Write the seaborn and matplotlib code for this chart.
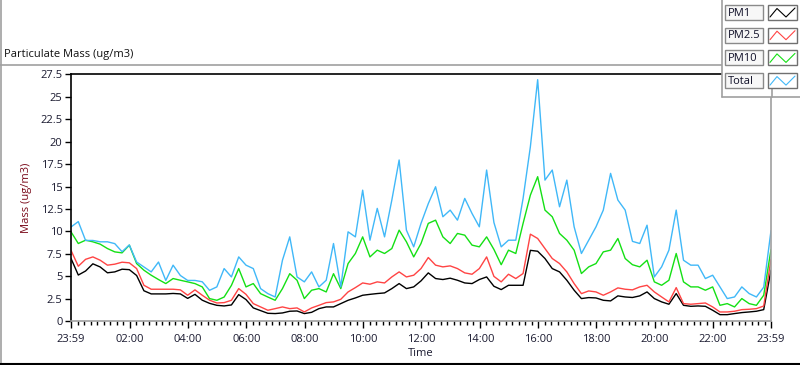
import numpy as np
import pandas as pd
import matplotlib
matplotlib.use("Agg")
import matplotlib.pyplot as plt
import seaborn as sns
from matplotlib.patches import Rectangle
from matplotlib.lines import Line2D

# ---------------- data ----------------
hours = np.arange(97) * 0.25   # sample times, hours after 23:59

pm1 = [7.0, 5.15, 5.6, 6.4, 6.05, 5.4, 5.5, 5.8, 5.75, 5.1, 3.4, 3.05, 3.05, 3.05, 3.1, 3.05, 2.55, 3.0, 2.35, 2.0,
       1.78, 1.71, 1.82, 2.97, 2.42, 1.49, 1.19, 0.89, 0.86, 0.93, 1.12, 1.15, 0.86, 1.0, 1.41, 1.6, 1.6, 1.97, 2.34,
       2.6, 2.9, 3.0, 3.09, 3.16, 3.64, 4.2, 3.64, 3.83, 4.5, 5.39, 4.76, 4.65, 4.8, 4.57, 4.27, 4.2, 4.65, 4.94, 3.9,
       3.53, 4.01, 4.01, 4.01, 7.9, 7.8, 6.99, 5.87, 5.5, 4.57, 3.46, 2.53, 2.64, 2.6, 2.34, 2.27, 2.83, 2.71, 2.65,
       2.83, 3.27, 2.53, 2.16, 1.9, 3.09, 1.78, 1.67, 1.71, 1.67, 1.23, 0.74, 0.74, 0.86, 0.97, 1.04, 1.12, 1.3, 5.7]

pm25 = [7.9, 6.13, 6.9, 7.17, 6.8, 6.25, 6.36, 6.58, 6.51, 5.87, 4.01, 3.57, 3.57, 3.57, 3.57, 3.5, 2.9, 3.5, 2.9, 2.35,
        2.04, 2.08, 2.34, 3.64, 3.0, 1.97, 1.6, 1.23, 1.41, 1.6, 1.41, 1.49, 1.04, 1.49, 1.78, 2.08, 2.16, 2.45, 3.27,
        3.75, 4.27, 4.13, 4.39, 4.27, 4.94, 5.5, 4.94, 5.13, 5.87, 7.1, 6.25, 6.06, 6.17, 5.87, 5.39, 5.24, 5.87, 7.17, 5.0,
        4.39, 5.24, 4.76, 5.32, 9.7, 9.22, 8.1, 6.99, 6.43, 5.5, 4.2, 3.08, 3.38, 3.27, 2.9, 3.27, 3.72, 3.57, 3.5,
        3.83, 4.01, 3.27, 2.71, 2.16, 3.75, 1.97, 1.9, 1.97, 2.04, 1.6, 1.04, 1.04, 1.12, 1.3, 1.34, 1.41, 1.7, 6.9]

pm10 = [9.96, 8.66, 9.03, 8.85, 8.59, 8.1, 7.73, 7.62, 8.48, 6.43, 5.69, 5.13, 4.65, 4.2, 4.76, 4.57, 4.39, 4.2, 3.83, 2.53,
        2.34, 2.7, 4.0, 5.87, 3.83, 4.2, 3.08, 2.7, 2.34, 3.64, 5.3, 4.57, 2.53, 3.46, 3.64, 3.27, 5.3, 3.64, 6.43,
        7.55, 9.4, 7.17, 7.92, 7.55, 8.1, 10.15, 8.85, 7.17, 8.66, 10.9, 11.26, 9.4, 8.66, 9.78, 9.59, 8.48, 8.29, 9.4, 8.0,
        6.3, 7.92, 7.55, 10.9, 14.05, 16.1, 12.38, 11.64, 9.78, 9.03, 7.92, 5.32, 6.06, 6.43, 7.73, 7.92, 9.22, 6.99, 6.3,
        6.06, 6.8, 4.39, 4.01, 4.57, 7.55, 4.39, 3.83, 3.83, 3.46, 3.83, 1.78, 1.97, 1.6, 2.53, 1.97, 1.78, 2.9, 8.0]

total = [10.5, 11.1, 9.0, 9.0, 8.85, 8.85, 8.65, 7.75, 8.5, 6.6, 6.05, 5.5, 6.6, 4.55, 6.25, 5.1, 4.55, 4.55, 4.4, 3.45,
         3.83, 5.87, 4.94, 7.17, 6.25, 5.87, 3.64, 3.08, 2.71, 6.8, 9.4, 4.94, 4.39, 5.5, 3.83, 4.57, 8.66, 3.83, 9.96,
         9.4, 14.6, 9.03, 12.57, 9.4, 13.5, 17.96, 10.15, 8.29, 10.9, 13.1, 14.98, 11.64, 12.38, 11.26, 13.68, 12.0, 10.52, 16.84, 11.0,
         8.29, 9.03, 9.03, 13.68, 19.44, 26.9, 15.72, 16.84, 12.75, 15.72, 10.52, 7.55, 9.03, 10.52, 12.38, 16.47, 13.5, 12.38, 8.9,
         8.66, 10.7, 4.94, 6.06, 7.92, 12.38, 6.8, 6.25, 6.25, 4.76, 5.13, 3.83, 2.53, 2.71, 3.83, 3.09, 2.71, 3.8, 10.1]

series_names = ["PM1", "PM2.5", "PM10", "Total"]
series_colors = ["#000000", "#ff4444", "#14e014", "#40b8f8"]

x_tick_hours = [0, 2 + 1/60, 4 + 1/60, 6 + 1/60, 8 + 1/60, 10 + 1/60, 12 + 1/60,
                14 + 1/60, 16 + 1/60, 18 + 1/60, 20 + 1/60, 22 + 1/60, 24]
x_tick_labels = ["23:59", "02:00", "04:00", "06:00", "08:00", "10:00", "12:00",
                 "14:00", "16:00", "18:00", "20:00", "22:00", "23:59"]
y_ticks = [0, 2.5, 5, 7.5, 10, 12.5, 15, 17.5, 20, 22.5, 25, 27.5]
y_tick_labels = ["0", "2.5", "5", "7.5", "10", "12.5", "15", "17.5", "20", "22.5", "25", "27.5"]

# ---------------- build frame ----------------
df = pd.DataFrame({"hours": hours, "PM1": pm1, "PM2.5": pm25, "PM10": pm10, "Total": total})
long = df.melt(id_vars="hours", var_name="series", value_name="value")

sns.set_theme(style="white")
plt.rcParams['font.family'] = ['Open Sans', 'DejaVu Sans']

W, H = 800, 365
fig = plt.figure(figsize=(W / 100, H / 100), dpi=100)
fig.patch.set_facecolor("white")

def fx(px):
    return px / W

def fy(py):
    return 1 - py / H

ax_l, ax_r, ax_t, ax_b = 71, 771, 74.3, 321.3
ax = fig.add_axes([fx(ax_l), fy(ax_b), (ax_r - ax_l) / W, (ax_b - ax_t) / H])
ax.set_facecolor("white")

sns.lineplot(data=long, x="hours", y="value", hue="series", hue_order=series_names,
             palette=dict(zip(series_names, series_colors)), estimator=None,
             linewidth=1.0, legend=False, ax=ax)

ax.set_xlim(0, 24)
ax.set_ylim(0, 27.5)

for s in ["top", "left"]:
    ax.spines[s].set_color("#000000")
    ax.spines[s].set_linewidth(1.2)
for s in ["bottom", "right"]:
    ax.spines[s].set_color("#a0a0a0")
    ax.spines[s].set_linewidth(1.2)

tick_col = "#1a1a30"
ax.set_xticks(x_tick_hours)
ax.set_xticklabels(x_tick_labels)
minor = []
for a, b in zip(x_tick_hours[:-1], x_tick_hours[1:]):
    for j in range(1, 9):
        minor.append(a + (b - a) * j / 9)
ax.set_xticks(minor, minor=True)
ax.set_yticks(y_ticks)
ax.set_yticklabels(y_tick_labels)
ax.tick_params(axis="x", which="major", direction="out", length=5, width=1, color="#000000",
               labelsize=8, labelcolor=tick_col, pad=4, bottom=True)
ax.tick_params(axis="x", which="minor", direction="out", length=3, width=1, color="#000000", bottom=True)
ax.tick_params(axis="y", which="major", direction="out", length=4, width=1, color="#000000",
               labelsize=8, labelcolor=tick_col, pad=2, left=True)
ax.set_xlabel("Time", fontsize=8, color="#1a1a30", labelpad=2)
ax.set_ylabel("Mass (ug/m3)", fontsize=8, color="#7a0a1a", labelpad=6)
ax.grid(False)

# ---------------- title and frame decorations ----------------
fig.text(fx(4), fy(55), "Particulate Mass (ug/m3)", fontsize=8, color="#101010",
         ha="left", va="center")
fig.add_artist(Line2D([fx(0), fx(722)], [fy(65), fy(65)], color="#a0a0a0", lw=1.2))
fig.add_artist(Line2D([fx(0.5), fx(0.5)], [fy(0), fy(363)], color="#a0a0a0", lw=1.2))
fig.add_artist(Line2D([fx(0), fx(800)], [fy(363.5), fy(363.5)], color="#000000", lw=1.5))

# legend panel
fig.add_artist(Rectangle((fx(722), fy(97)), fx(78), 97 / H, facecolor="white",
                         edgecolor="none", zorder=5))
fig.add_artist(Line2D([fx(722), fx(722)], [fy(0), fy(97)], color="#a0a0a0", lw=1.2, zorder=6))
fig.add_artist(Line2D([fx(722), fx(800)], [fy(97), fy(97)], color="#a0a0a0", lw=1.2, zorder=6))
fig.add_artist(Line2D([fx(772), fx(772)], [fy(97), fy(ax_t)], color="#a0a0a0", lw=1.2, zorder=6))

for i, (name, col) in enumerate(zip(series_names, series_colors)):
    top = 5 + 22.7 * i
    h = 15
    fig.add_artist(Rectangle((fx(725), fy(top + h)), fx(38), h / H, facecolor="#f7f7f7",
                             edgecolor="#8a8a8a", lw=1.0, zorder=7))
    fig.text(fx(728), fy(top + h / 2 + 0.5), name, fontsize=8, color="#101028",
             ha="left", va="center", zorder=8)
    fig.add_artist(Rectangle((fx(768), fy(top + h)), fx(29), h / H, facecolor="white",
                             edgecolor="#707070", lw=1.0, zorder=7))
    zx = [770, 777, 786, 795]
    zy = [top + 12, top + 3.5, top + 12, top + 3]
    fig.add_artist(Line2D([fx(v) for v in zx], [fy(v) for v in zy], color=col, lw=0.8, zorder=8))

fig.savefig("out.png", dpi=100, facecolor="white")
